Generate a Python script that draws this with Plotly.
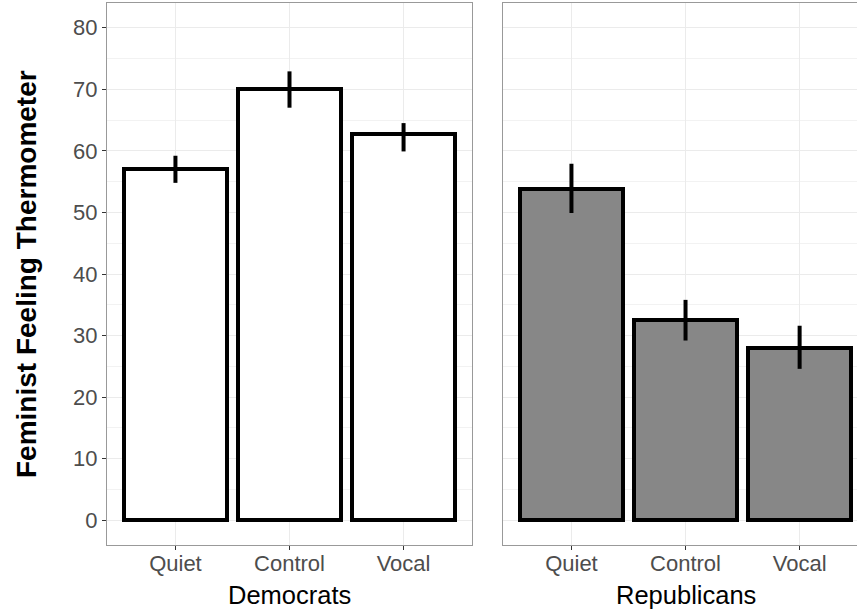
import plotly.graph_objects as go

categories = ["Quiet", "Control", "Vocal"]
dem_values = [57.0, 70.0, 62.7]
dem_upper = [59.2, 72.9, 64.5]
dem_lower = [54.8, 67.0, 59.9]
rep_values = [53.8, 32.5, 28.0]
rep_upper = [57.9, 35.8, 31.6]
rep_lower = [49.9, 29.2, 24.6]
y_ticks = [0, 10, 20, 30, 40, 50, 60, 70, 80]

FONT = "Liberation Sans, Arial, Helvetica, sans-serif"
W, H = 857, 613

def err(vals, up, lo):
    return dict(type="data", symmetric=False,
                array=[u - v for u, v in zip(up, vals)],
                arrayminus=[v - l for v, l in zip(vals, lo)],
                thickness=4, width=0, color="black")

fig = go.Figure()
fig.add_trace(go.Bar(x=[1, 2, 3], y=dem_values, width=0.9,
                     marker=dict(color="white", line=dict(color="black", width=4)),
                     error_y=err(dem_values, dem_upper, dem_lower),
                     xaxis="x", yaxis="y", showlegend=False, hoverinfo="skip"))
fig.add_trace(go.Bar(x=[1, 2, 3], y=rep_values, width=0.9,
                     marker=dict(color="#878787", line=dict(color="black", width=4)),
                     error_y=err(rep_values, rep_upper, rep_lower),
                     xaxis="x2", yaxis="y2", showlegend=False, hoverinfo="skip"))

ydom = [(H - 545) / H, (H - 3) / H]
grid = "#EBEBEB"
tickfont = dict(family=FONT, size=22, color="#4D4D4D")
common_x = dict(tickmode="array", tickvals=[1, 2, 3], ticktext=categories,
                showgrid=True, gridcolor=grid, gridwidth=1.2, zeroline=False,
                ticks="outside", ticklen=4, tickcolor="#333333", tickwidth=1,
                tickfont=tickfont, ticklabelstandoff=-5,
                showline=True, linecolor="#999999", linewidth=1)
common_y = dict(range=[-4, 84], tickmode="array", tickvals=y_ticks,
                showgrid=True, gridcolor=grid, gridwidth=1.2, zeroline=False,
                minor=dict(tickmode="array", tickvals=[5, 15, 25, 35, 45, 55, 65, 75],
                           showgrid=True, gridcolor="#F2F2F2", gridwidth=0.8),
                domain=ydom, showline=True, linecolor="#999999", linewidth=1)

fig.update_layout(
    width=W, height=H,
    margin=dict(l=0, r=0, t=0, b=0),
    paper_bgcolor="white", plot_bgcolor="white",
    bargap=0,
    xaxis=dict(**common_x, domain=[107 / W, 472 / W], range=[0.4, 3.6], mirror=True, anchor="y"),
    xaxis2=dict(**common_x, domain=[503 / W, 1.0], range=[0.4, 3.503], mirror=True, anchor="y2"),
    yaxis=dict(**common_y, anchor="x", mirror=True, ticks="outside", ticklen=4,
               tickcolor="#333333", tickwidth=1, tickfont=tickfont),
    yaxis2=dict(**common_y, anchor="x2", showticklabels=False, ticks=""),
    annotations=[
        dict(text="Democrats", x=(107 + 472) / 2 / W, y=(H - 595) / H, xref="paper", yref="paper",
             showarrow=False, font=dict(family=FONT, size=25.5, color="black"),
             xanchor="center", yanchor="middle"),
        dict(text="Republicans", x=(503 + 868) / 2 / W, y=(H - 595) / H, xref="paper", yref="paper",
             showarrow=False, font=dict(family=FONT, size=25.5, color="black"),
             xanchor="center", yanchor="middle"),
        dict(text="<b>Feminist Feeling Thermometer</b>", x=26 / W, y=(H - 274) / H,
             xref="paper", yref="paper", showarrow=False, textangle=-90,
             font=dict(family=FONT, size=28, color="black"),
             xanchor="center", yanchor="middle"),
    ],
)

fig.write_html("out.html", config={"displayModeBar": False},
               post_script="document.body.style.margin='0';")
